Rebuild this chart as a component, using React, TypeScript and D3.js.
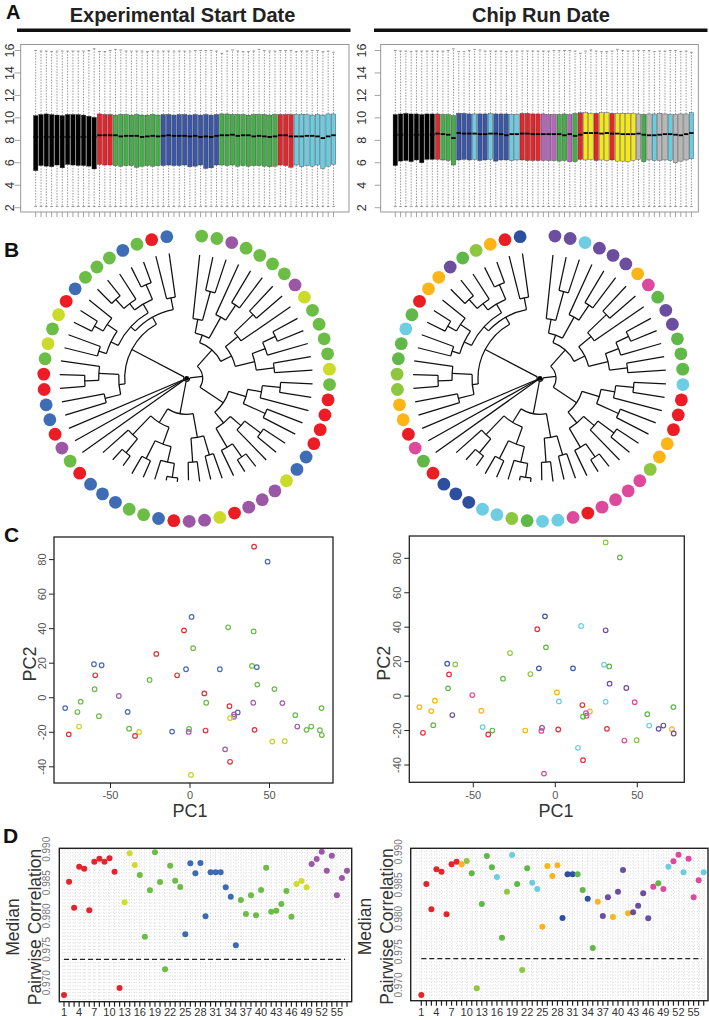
import React from 'react';
import * as d3 from 'd3';

const FONT = '"Liberation Sans", Arial, Helvetica, sans-serif';

// ---------------- Panel A : box plots ----------------
const aTicksY = [2, 4, 6, 8, 10, 12, 14, 16];
const paletteA: Record<string, string> = {
  k: '#000000', r: '#e3262c', g: '#47ad4b', b: '#3a56a6', c: '#6ccbe0', p: '#b466b8', y: '#f4e917', s: '#b7b7b7',
};
const groupsA1 = ['k','k','k','k','k','k','k','k','k','k','k','k','r','r','r','g','g','g','g','g','g','g','g','g','b','b','b','b','b','b','b','b','b','b','b','g','g','g','g','g','g','g','g','g','g','g','r','r','r','c','c','c','c','c','c','c','c'];
const q1A1 = [5.3,5.75,5.7,5.65,5.8,5.55,5.85,5.8,5.75,5.75,5.7,5.45,5.85,5.8,5.8,5.75,5.7,5.75,5.75,5.6,5.7,5.75,5.7,5.75,5.75,5.8,5.75,5.75,5.8,5.65,5.7,5.8,5.5,5.55,5.8,5.8,5.75,5.8,5.7,5.75,5.7,5.75,5.75,5.7,5.65,5.7,5.8,5.75,5.6,5.8,5.65,5.75,5.7,5.8,5.5,5.7,5.85];
const q3A1 = [10.2,10.3,10.35,10.3,10.25,10.2,10.3,10.3,10.3,10.25,10.15,10.05,10.35,10.3,10.3,10.25,10.3,10.3,10.25,10.3,10.25,10.25,10.3,10.25,10.3,10.3,10.25,10.3,10.3,10.25,10.3,10.25,10.3,10.25,10.3,10.35,10.35,10.3,10.3,10.3,10.25,10.3,10.3,10.3,10.25,10.3,10.3,10.3,10.3,10.3,10.3,10.3,10.25,10.3,10.25,10.35,10.35];
const medA1 = [8.3,8.3,8.3,8.3,8.3,8.3,8.3,8.3,8.3,8.3,8.3,8.3,8.45,8.45,8.45,8.45,8.35,8.4,8.4,8.4,8.3,8.35,8.4,8.35,8.4,8.45,8.4,8.4,8.4,8.35,8.4,8.3,8.35,8.3,8.4,8.45,8.45,8.5,8.4,8.45,8.45,8.35,8.4,8.35,8.3,8.35,8.45,8.45,8.35,8.35,8.35,8.4,8.4,8.35,8.2,8.35,8.45];
const hiA1 = [16.0,15.95,15.95,15.9,15.95,15.95,15.95,15.95,15.95,15.95,16.0,16.15,15.9,15.9,16.0,16.1,16.05,15.95,15.95,15.95,15.95,15.9,15.95,15.95,15.95,15.95,15.95,15.95,15.95,15.95,16.0,16.0,16.0,16.0,15.95,15.75,15.95,16.05,15.95,15.9,15.9,15.95,16.1,16.0,15.95,15.95,16.0,16.0,16.0,15.9,15.95,15.95,16.0,16.0,15.9,15.95,15.85];
const loA1 = [2.1,2.1,2.1,2.1,2.1,2.1,2.1,2.1,2.1,2.1,2.1,2.1,2.1,2.1,2.1,2.1,2.1,2.1,2.1,2.1,2.1,2.1,2.1,2.1,2.1,2.1,2.1,2.1,2.1,2.1,2.1,2.1,2.1,2.1,2.1,2.1,2.1,2.1,2.1,2.1,2.1,2.1,2.1,2.1,2.1,2.1,2.1,2.1,2.1,2.1,2.1,2.1,2.1,2.1,2.1,2.1,2.1];

const groupsA2 = ['k','k','k','k','k','k','k','k','r','g','g','g','b','b','b','c','b','b','c','b','b','b','c','c','r','r','r','r','p','p','p','g','g','p','g','r','y','y','r','y','y','r','y','y','y','y','s','g','s','c','s','s','c','s','s','s','c'];
const q1A2 = [5.75,6.15,6.2,6.1,6.25,6.0,6.3,6.3,6.3,6.25,6.2,5.8,6.25,6.3,6.25,6.3,6.2,6.25,6.3,6.15,6.25,6.25,6.2,6.25,6.25,6.2,6.2,6.2,6.2,6.2,6.2,6.15,6.2,6.1,6.1,6.3,6.25,6.3,6.2,6.25,6.2,6.25,6.15,6.15,6.1,6.2,6.3,6.1,6.25,6.2,6.2,6.25,6.2,6.0,6.15,6.25,6.35];
const q3A2 = [10.3,10.35,10.4,10.35,10.35,10.3,10.35,10.35,10.35,10.3,10.3,10.2,10.4,10.4,10.35,10.35,10.35,10.35,10.4,10.35,10.35,10.35,10.3,10.3,10.4,10.4,10.35,10.35,10.35,10.3,10.3,10.3,10.35,10.3,10.4,10.45,10.45,10.4,10.4,10.45,10.45,10.4,10.4,10.4,10.4,10.4,10.35,10.3,10.35,10.35,10.4,10.35,10.3,10.3,10.35,10.35,10.45];
const medA2 = [8.5,8.5,8.5,8.5,8.5,8.5,8.5,8.5,8.6,8.55,8.5,8.2,8.65,8.6,8.6,8.6,8.55,8.55,8.6,8.6,8.55,8.45,8.55,8.55,8.6,8.6,8.55,8.55,8.55,8.55,8.55,8.55,8.45,8.55,8.4,8.5,8.65,8.65,8.65,8.6,8.65,8.6,8.6,8.55,8.55,8.55,8.6,8.5,8.45,8.45,8.5,8.55,8.55,8.5,8.45,8.55,8.65];
const hiA2 = [16.0,15.95,15.95,15.9,15.95,15.95,15.95,15.95,15.95,15.95,16.0,16.15,15.9,15.9,16.0,16.1,16.05,15.95,15.95,15.95,15.95,15.9,15.95,15.95,15.95,15.95,15.95,15.95,15.95,15.95,16.0,16.0,16.0,16.0,15.95,15.75,15.95,16.05,15.95,15.9,15.9,15.95,16.1,16.0,15.95,15.95,16.0,16.0,16.0,15.9,15.95,15.95,16.0,16.0,15.9,15.95,15.85];
const loA2 = loA1;

// ---------------- Panel B : circular dendrograms ----------------
// nested clusters: [nodeRadius, ...children]; leaves are sample indices
const dendroTree: any[] = [3,
  [62,
    [70, [82, 0, 1], [76, [86, [102, 2, 3], [94, 4, [106, 5, 6]]], [84, [96, 7, [106, 8, 9]], [92, 10, 11]]]],
    [68, [88, 12, [102, 13, 14]], [84, 15, 16]]
  ],
  17, 18, 19,
  [36,
    [52, [78, 20, [96, 21, 22]], [70, [90, 23, 24], [86, 25, [100, 26, 27]]]],
    [60, [84, 28, 29], [80, 30, 31]]
  ],
  [16,
    [44, [58, [80, 32, [96, 33, 34]], [72, 35, [92, 36, 37]]], [62, [86, 38, 39], [76, 40, [94, 41, 42]]]],
    [38,
      [50, [70, [88, 43, 44], [84, 45, [98, 46, 47]]], [66, 48, [92, 49, 50]]],
      [46, [70, [88, 51, 52], 53], [60, [90, 54, 55], 56]]
    ]
  ]
];
const tipRadius = [126,126,124,124,124,126,126,125,126,126,126,126,127,127,127,127,127,128,128,128,112,110,108,110,108,106,104,104,102,104,104,106,108,110,112,114,116,118,122,124,126,126,126,126,126,126,126,126,126,126,126,126,125,125,125,124,124];
const leafGroupsB1 = ['b','r','g','b','g','g','g','b','r','y','g','y','g','r','r','b','b','r','p','g','r','b','b','b','g','g','b','r','p','p','y','r','p','p','p','y','b','b','r','r','r','r','g','y','g','g','g','g','y','p','g','g','g','g','p','g','g'];
const leafGroupsB2 = ['b','r','o','l','g','p','o','o','r','g','c','g','g','l','l','o','o','r','m','g','r','b','b','b','c','c','l','g','c','c','m','r','m','m','m','m','l','o','o','r','r','r','c','g','g','g','p','p','g','m','o','p','p','p','c','p','p'];
const paletteB1: Record<string, string> = { b: '#3e6db6', r: '#ec1c24', g: '#6cbd45', y: '#cbdb2a', p: '#9b56a6' };
const paletteB2: Record<string, string> = { b: '#2d4f9f', r: '#ec1c24', o: '#fdb515', l: '#8dc63f', g: '#5fb847', p: '#6b4ea0', c: '#6dcde2', m: '#dd4a9c' };

// ---------------- Panel C : PCA ----------------
const cTicksX = [-50, 0, 50];
const cTicksY = [-40, -20, 0, 20, 40, 60, 80];
const pcLeftX = [1,-3.75,2,24,40,-21.2,-60.4,-55.6,-59.6,-2.5,-8.1,18.75,39,42,-25.4,-60,42.3,53.1,-44.8,9,-68.75,10.2,39.8,58.1,-78.5,82.7,-70.8,-39.2,24.8,30,27.7,27.7,25.2,-57.3,66.2,-69.8,67.5,76.25,73.3,81.7,82.9,-38.3,-32,-34.6,-76.25,-11.25,-0.6,-0.8,9.8,40.6,51.7,59.6,22.1,25.2,0.6,40.3,48.8];
const pcLeftY = [46.8,39,28.7,40.8,38.4,25.4,19.4,18.8,13,16.5,13,16.5,18.4,17.7,10.3,4.9,7.6,5,1,2.5,-2.3,-2.9,-2.9,-3.1,-6,-6,-8.3,-8.2,-4.9,-8.5,-9.7,-11,-11.8,-10.7,-10.1,-16.7,-16.7,-16.7,-18.6,-18.8,-21.6,-17.9,-19.8,-22.1,-21.2,-19.6,-18.1,-19.8,-19,-18.6,-25.4,-25.2,-29.9,-37.1,-44.7,87.5,78.8];
const pcLeftG = ['b','r','g','g','g','r','b','b','r','b','r','b','g','b','g','g','g','g','p','r','g','g','p','p','b','g','g','b','r','b','p','p','y','g','g','y','p','g','g','g','g','g','y','r','r','b','g','p','r','r','y','y','p','r','y','r','b'];
const pcRightX = [-6.3,-11,-5.7,15.7,30.7,-27.6,-65.9,-61,-64.8,-10,-15.2,10.8,29.7,32.9,-31.9,-65.4,33.1,43.3,-50.6,1,-73.4,2.2,30.7,48.4,-82.9,72,-75.6,-45.1,16.5,21.1,18.7,19.1,16.9,-62.8,56.1,-74.4,57.3,65.9,63,71.1,72.2,-44.3,-38.4,-40.9,-80.7,-18.3,-8.1,-8.5,1.8,31.5,42.1,49.6,13.8,16.9,-6.9,30.7,39.4];
const pcRightY = [46.3,38.8,28.3,40.7,38.2,25,18.8,18.4,12.6,16.1,12.8,16.1,18.2,17.2,10.1,4.5,7.2,4.7,0.6,2.1,-2.7,-3.1,-3.3,-3.5,-6.4,-6.4,-8.7,-8.5,-5.2,-8.9,-9.9,-11.4,-12,-11,-10.5,-16.9,-17.1,-17.1,-19,-19.2,-21.7,-18,-20,-22.3,-21.3,-20,-18.4,-20.2,-19.4,-19,-25.8,-25.6,-30,-37.2,-45,89.2,80.5];
const pcRightG = ['b','r','g','c','p','l','b','l','r','b','l','b','c','g','g','g','p','p','m','o','o','c','c','m','o','g','o','o','r','o','m','m','g','p','g','g','c','p','p','o','p','c','g','r','r','o','p','m','r','r','m','l','c','r','m','l','g'];
const paletteC1: Record<string, string> = { b: '#4a6cb5', r: '#e0323a', g: '#6cb94a', p: '#a05aaa', y: '#c6d32c' };
const paletteC2: Record<string, string> = { b: '#3a56a8', r: '#e0323a', g: '#5fb847', l: '#8dc63f', c: '#6ccde0', m: '#dd4a9c', o: '#fbb21a', p: '#6b4ea0' };

// ---------------- Panel D : median pairwise correlation ----------------
const dTicksY = [0.970, 0.975, 0.980, 0.985, 0.990];
const dTickLabelsX = [1, 4, 7, 10, 13, 16, 19, 22, 25, 28, 31, 34, 37, 40, 43, 46, 49, 52, 55];
const dThreshold = [0.9735, 0.97395];
const corrLeft = [0.96815,0.98515,0.98125,0.9874,0.9871,0.98085,0.98815,0.9886,0.98815,0.98865,0.98665,0.9692,0.98205,0.9894,0.98765,0.98615,0.9769,0.98385,0.98955,0.9851,0.972,0.98755,0.9853,0.98435,0.97725,0.9879,0.9864,0.98795,0.97995,0.98655,0.98655,0.98655,0.9843,0.9829,0.9756,0.9824,0.9803,0.9831,0.9801,0.9839,0.98725,0.98065,0.9808,0.9818,0.98375,0.9799,0.9848,0.98525,0.9843,0.9878,0.98855,0.98965,0.9868,0.98905,0.9831,0.9857,0.9868];
const corrLeftG = ['r','r','r','r','r','r','r','r','r','r','r','r','y','y','y','g','g','g','g','g','g','g','g','g','b','b','b','b','b','b','b','b','b','b','b','g','g','g','g','g','g','g','g','g','g','g','y','y','y','p','p','p','p','p','p','p','p'];
const corrRight = [0.9685,0.98515,0.98135,0.98735,0.987,0.9806,0.9881,0.9885,0.9881,0.9886,0.98675,0.9695,0.98215,0.98935,0.98765,0.9862,0.9771,0.984,0.9895,0.98515,0.97225,0.9875,0.98535,0.9844,0.97875,0.98785,0.98635,0.98795,0.98005,0.9866,0.9866,0.9866,0.98425,0.98295,0.97555,0.9825,0.98035,0.98315,0.9802,0.984,0.98725,0.98075,0.9809,0.9819,0.98375,0.98,0.98475,0.98525,0.9844,0.98775,0.98855,0.98955,0.9869,0.98895,0.98315,0.9857,0.9869];
const corrRightG = ['r','r','r','r','r','r','r','r','o','l','g','l','g','g','g','c','g','l','c','g','l','g','c','c','o','o','o','o','b','b','b','g','g','b','g','o','p','p','o','p','p','o','p','p','p','p','m','g','m','c','m','m','c','m','m','m','c'];
const paletteD1: Record<string, string> = { r: '#e5232b', y: '#cfdc2b', g: '#6cbd45', b: '#3a6cb4', p: '#9b58a6' };
const paletteD2: Record<string, string> = { r: '#e5232b', o: '#fbb41a', g: '#5fb847', l: '#8dc63f', c: '#6ccde2', b: '#2d4f9f', p: '#6b4ea0', m: '#dd4a9c' };

// ======================================================================
function BoxPanel(props: any) {
  const { frame, first, last, groups, q1, q3, med, hi, lo, pal, labelX } = props;
  const [fx0, fy0, fx1, fy1] = frame;
  const y = d3.scaleLinear().domain([2, 16]).range([207.7, 50.5]);
  const x = d3.scaleLinear().domain([1, groups.length]).range([first, last]);
  const step = (last - first) / (groups.length - 1);
  const bw = step * 0.84;
  return (
    <g>
      <rect x={fx0} y={fy0} width={fx1 - fx0} height={fy1 - fy0} fill="none" stroke="#8c8c8c" strokeWidth={0.9} />
      {groups.map((g: string, i: number) => {
        const cx = x(i + 1);
        return (
          <g key={i}>
            <line x1={cx} x2={cx} y1={y(q3[i])} y2={y(hi[i])} stroke="#6a6a6a" strokeWidth={0.7} strokeDasharray="1.5,1.3" />
            <line x1={cx} x2={cx} y1={y(q1[i])} y2={y(lo[i])} stroke="#6a6a6a" strokeWidth={0.7} strokeDasharray="1.5,1.3" />
            <line x1={cx - bw * 0.3} x2={cx + bw * 0.3} y1={y(hi[i])} y2={y(hi[i])} stroke="#6a6a6a" strokeWidth={0.7} />
            <line x1={cx - bw * 0.3} x2={cx + bw * 0.3} y1={y(lo[i])} y2={y(lo[i])} stroke="#6a6a6a" strokeWidth={0.7} />
            <rect x={cx - bw / 2} y={y(q3[i])} width={bw} height={y(q1[i]) - y(q3[i])} fill={pal[g]} stroke="#2a2a2a" strokeWidth={0.35} />
            <line x1={cx - bw / 2} x2={cx + bw / 2} y1={y(med[i])} y2={y(med[i])} stroke="#000" strokeWidth={1.8} />
            <line x1={cx} x2={cx} y1={fy1} y2={fy1 + 5} stroke="#8c8c8c" strokeWidth={0.8} />
          </g>
        );
      })}
      {aTicksY.map((t) => (
        <g key={t}>
          <line x1={fx0 - 6} x2={fx0} y1={y(t)} y2={y(t)} stroke="#8c8c8c" strokeWidth={0.8} />
          <text transform={`translate(${labelX},${y(t)}) rotate(-90)`} textAnchor="middle" dominantBaseline="central" fontSize={12.5} fill="#333" fontFamily={FONT}>{t}</text>
        </g>
      ))}
    </g>
  );
}

function Dendro(props: any) {
  const { cx, cy, groups, pal } = props;
  const ang = d3.scaleLinear().domain([0, 56]).range([-8, -354]);
  const pt = (a: number, r: number) => {
    const t = (a * Math.PI) / 180;
    return [cx + r * Math.sin(t), cy - r * Math.cos(t)];
  };
  const paths: string[] = [];
  const lay = (node: any): { a: number; r: number } => {
    if (typeof node === 'number') return { a: ang(node), r: tipRadius[node] };
    const [r, ...kids] = node;
    const ks = kids.map(lay);
    const as = ks.map((k: any) => k.a);
    const amin = Math.min(...as);
    const amax = Math.max(...as);
    ks.forEach((k: any) => {
      const p0 = pt(k.a, r);
      const p1 = pt(k.a, k.r);
      paths.push(`M${p0[0]},${p0[1]}L${p1[0]},${p1[1]}`);
    });
    const p = d3.path();
    const s = pt(amin, r);
    p.moveTo(s[0], s[1]);
    p.arc(cx, cy, r, ((amin - 90) * Math.PI) / 180, ((amax - 90) * Math.PI) / 180, false);
    paths.push(p.toString());
    return { a: (amin + amax) / 2, r };
  };
  lay(dendroTree);
  return (
    <g>
      {paths.map((d, i) => (
        <path key={i} d={d} fill="none" stroke="#111" strokeWidth={1.25} />
      ))}
      <circle cx={cx} cy={cy} r={2.4} fill="#000" />
      {groups.map((g: string, i: number) => {
        const p = pt(ang(i), 143);
        return <circle key={i} cx={p[0]} cy={p[1]} r={6.4} fill={pal[g]} />;
      })}
    </g>
  );
}

function Scatter(props: any) {
  const { frame, xr, yr, xs, ys, gs, pal, ylabX, xlabY, pc2X, pc1X } = props;
  const [fx0, fy0, fx1, fy1] = frame;
  const x = d3.scaleLinear().domain([-50, 50]).range(xr);
  const y = d3.scaleLinear().domain([-40, 80]).range(yr);
  return (
    <g fontFamily={FONT}>
      <rect x={fx0} y={fy0} width={fx1 - fx0} height={fy1 - fy0} fill="none" stroke="#222" strokeWidth={1.3} />
      {cTicksY.map((t) => (
        <g key={t}>
          <line x1={fx0 - 5} x2={fx0} y1={y(t)} y2={y(t)} stroke="#222" strokeWidth={1} />
          <text transform={`translate(${ylabX},${y(t)}) rotate(-90)`} textAnchor="middle" dominantBaseline="central" fontSize={11} fill="#555">{t}</text>
        </g>
      ))}
      {cTicksX.map((t) => (
        <g key={t}>
          <line x1={x(t)} x2={x(t)} y1={fy1} y2={fy1 + 5} stroke="#222" strokeWidth={1} />
          <text x={x(t)} y={xlabY} textAnchor="middle" fontSize={11} fill="#555">{t}</text>
        </g>
      ))}
      {xs.map((v: number, i: number) => (
        <circle key={i} cx={x(v)} cy={y(ys[i])} r={2.3} fill="none" stroke={pal[gs[i]]} strokeWidth={1.2} />
      ))}
      <text transform={`translate(${pc2X},${(fy0 + fy1) / 2 + 4}) rotate(-90)`} textAnchor="middle" dominantBaseline="central" fontSize={18} fill="#333">PC2</text>
      <text x={pc1X} y={817} textAnchor="middle" fontSize={18} fill="#333">PC1</text>
    </g>
  );
}

function CorrPanel(props: any) {
  const { frame, xr, yr, vals, gs, pal, thr, ylabX, medX, pwX } = props;
  const [fx0, fy0, fx1, fy1] = frame;
  const x = d3.scaleLinear().domain([1, vals.length]).range(xr);
  const y = d3.scaleLinear().domain([0.97, 0.99]).range(yr);
  const hLines = d3.range(0.9675, 0.99001, 0.0005).filter((v) => y(v) >= fy0 + 1 && y(v) <= fy1 - 1);
  const idx = vals.map((_: number, i: number) => i + 1);
  const cy = (fy0 + fy1) / 2 + 2;
  return (
    <g fontFamily={FONT}>
      {hLines.map((v, i) => (
        <line key={'h' + i} x1={fx0 + 3} x2={fx1 - 3} y1={y(v)} y2={y(v)} stroke="#b0b0b0" strokeWidth={0.6} strokeDasharray="0.7,1.85" />
      ))}
      {idx.map((k: number) => (
        <line key={'v' + k} x1={x(k)} x2={x(k)} y1={fy0 + 2} y2={fy1 - 2} stroke="#b0b0b0" strokeWidth={0.6} strokeDasharray="0.7,2.6" />
      ))}
      <line x1={x(1)} x2={x(vals.length) - 2} y1={y(thr)} y2={y(thr)} stroke="#222" strokeWidth={1.4} strokeDasharray="5,3" />
      {vals.map((v: number, i: number) => (
        <circle key={i} cx={x(i + 1)} cy={y(v)} r={3} fill={pal[gs[i]]} />
      ))}
      <rect x={fx0} y={fy0} width={fx1 - fx0} height={fy1 - fy0} fill="none" stroke="#222" strokeWidth={1.4} />
      {idx.map((k: number) => (
        <line key={'t' + k} x1={x(k)} x2={x(k)} y1={fy1} y2={fy1 + 5} stroke="#222" strokeWidth={1.2} />
      ))}
      {dTickLabelsX.map((k) => (
        <text key={'l' + k} x={x(k)} y={1016} textAnchor="middle" fontSize={11} fill="#333">{k}</text>
      ))}
      {dTicksY.map((t) => (
        <text key={t} transform={`translate(${ylabX},${y(t)}) rotate(-90)`} textAnchor="middle" dominantBaseline="central" fontSize={10} fill="#777">{t.toFixed(3)}</text>
      ))}
      <text transform={`translate(${medX},${cy}) rotate(-90)`} textAnchor="middle" dominantBaseline="central" fontSize={17.5} fill="#333">Median</text>
      <text transform={`translate(${pwX},${cy}) rotate(-90)`} textAnchor="middle" dominantBaseline="central" fontSize={17.5} fill="#333">Pairwise Correlation</text>
    </g>
  );
}

export default function App() {
  return (
    <svg width={709} height={1020} style={{ position: 'absolute', left: 0, top: 0, background: '#fff' }} fontFamily={FONT}>
      <rect x={0} y={0} width={709} height={1020} fill="#fff" />
      {/* panel letters */}
      <text x={6} y={19} fontSize={20} fontWeight="bold" fill="#111">A</text>
      <text x={4} y={257} fontSize={21} fontWeight="bold" fill="#111">B</text>
      <text x={4} y={541.5} fontSize={21} fontWeight="bold" fill="#111">C</text>
      <text x={3} y={843} fontSize={21} fontWeight="bold" fill="#111">D</text>

      {/* Panel A */}
      <text x={182.5} y={21.5} textAnchor="middle" fontSize={20} fontWeight="bold" fill="#222">Experimental Start Date</text>
      <line x1={17} x2={350.5} y1={30.3} y2={30.3} stroke="#111" strokeWidth={3.5} />
      <text x={541} y={21.5} textAnchor="middle" fontSize={20} fontWeight="bold" fill="#222">Chip Run Date</text>
      <line x1={374} x2={707.5} y1={30.3} y2={30.3} stroke="#111" strokeWidth={3.5} />
      <BoxPanel frame={[20.7, 44.5, 349, 212]} first={35.7} last={333.5} groups={groupsA1} q1={q1A1} q3={q3A1} med={medA1} hi={hiA1} lo={loA1} pal={paletteA} labelX={10} />
      <BoxPanel frame={[380.7, 44.5, 698.3, 212]} first={395.3} last={691.4} groups={groupsA2} q1={q1A2} q3={q3A2} med={medA2} hi={hiA2} lo={loA2} pal={paletteA} labelX={361.5} />

      {/* Panel B */}
      <Dendro cx={186.7} cy={378.3} groups={leafGroupsB1} pal={paletteB1} />
      <Dendro cx={540} cy={378.3} groups={leafGroupsB2} pal={paletteB2} />

      {/* Panel C */}
      <Scatter frame={[54, 537, 333, 783]} xr={[110.5, 269.5]} yr={[766.8, 559.6]} xs={pcLeftX} ys={pcLeftY} gs={pcLeftG} pal={paletteC1} ylabX={41.5} xlabY={799} pc2X={30} pc1X={190} />
      <Scatter frame={[409.3, 536, 684.3, 782.3]} xr={[473.3, 637.3]} yr={[765, 558.3]} xs={pcRightX} ys={pcRightY} gs={pcRightG} pal={paletteC2} ylabX={396.7} xlabY={799} pc2X={384} pc1X={556} />

      {/* Panel D */}
      <CorrPanel frame={[59.3, 848.3, 351.7, 1001.7]} xr={[64, 347]} yr={[982.7, 849.3]} vals={corrLeft} gs={corrLeftG} pal={paletteD1} thr={dThreshold[0]} ylabX={46.7} medX={13.3} pwX={35} />
      <CorrPanel frame={[410.7, 848.3, 708, 1000.7]} xr={[421.3, 703.7]} yr={[985, 851.7]} vals={corrRight} gs={corrRightG} pal={paletteD2} thr={dThreshold[1]} ylabX={398} medX={365} pwX={386.7} />
    </svg>
  );
}
